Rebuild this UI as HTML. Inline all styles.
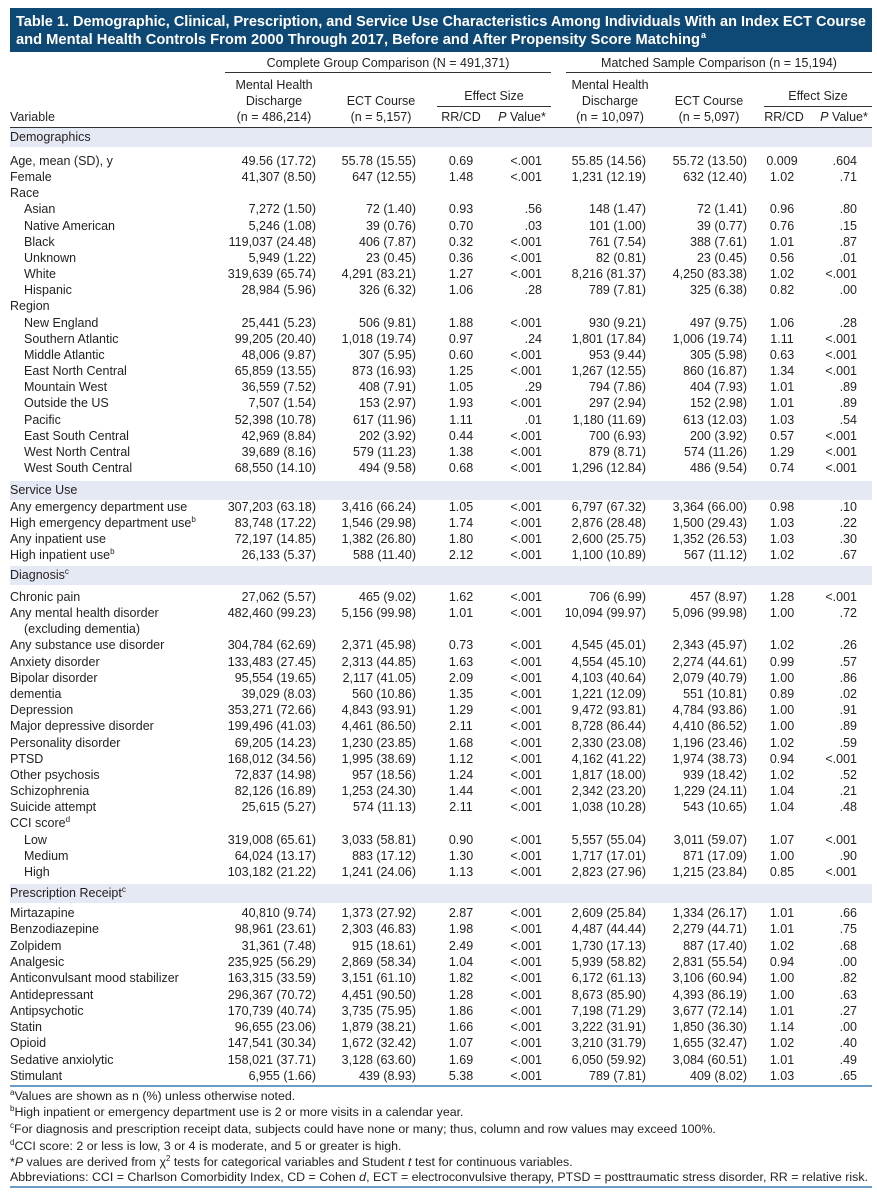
<!DOCTYPE html>
<html><head><meta charset="utf-8">
<style>
body{margin:0;width:877px;height:1200px;background:#fff;position:relative;font-family:"Liberation Sans",sans-serif;color:#231f20;overflow:hidden}
.t{position:absolute;left:10px;top:8px;width:862px;height:44px;background:#0e4874}
.r{position:absolute;left:0;width:877px;height:16px;line-height:16px;font-size:12.5px;white-space:nowrap}
.r span{position:absolute;top:0}
.v{left:10px}.i{left:24px}
.a{right:561px}.b{right:461px}.c{left:440px;width:42px;text-align:center}.d{right:335px}
.e{right:231px}.f{right:130px}.g{left:761px;width:42px;text-align:center}.h{right:20px}
.band{position:absolute;left:10px;width:862px;height:19px;background:#e5e9f4;font-size:12.5px;line-height:19px;padding-left:0}
.band span{position:absolute;left:0}
sup{font-size:8px;line-height:0;vertical-align:5px}
.hd{position:absolute;font-size:12.5px;line-height:16px;text-align:center;white-space:nowrap}
.ln{position:absolute;height:1px;background:#333}
.rule{position:absolute;left:10px;width:862px;height:2px;background:#6b9bc7}
.fn{position:absolute;left:10px;font-size:12.4px;line-height:16px;white-space:nowrap}
</style></head><body>
<div class="t"></div>
<svg style="position:absolute;left:0;top:0" width="877" height="60">
<text x="16" y="26" fill="#fff" font-family="Liberation Sans" font-weight="bold" font-size="14.5" textLength="850" lengthAdjust="spacingAndGlyphs">Table 1. Demographic, Clinical, Prescription, and Service Use Characteristics Among Individuals With an Index ECT Course</text>
<text x="16" y="44" fill="#fff" font-family="Liberation Sans" font-weight="bold" font-size="14.5" textLength="684" lengthAdjust="spacingAndGlyphs">and Mental Health Controls From 2000 Through 2017, Before and After Propensity Score Matching</text>
<text x="701" y="38" fill="#fff" font-family="Liberation Sans" font-weight="bold" font-size="9">a</text>
</svg>

<div class="hd" style="left:225px;width:326px;top:55px">Complete Group Comparison (N = 491,371)</div>
<div class="ln" style="left:225px;width:326px;top:72px"></div>
<div class="hd" style="left:566px;width:306px;top:55px">Matched Sample Comparison (n = 15,194)</div>
<div class="ln" style="left:566px;width:306px;top:72px"></div>
<div class="hd" style="left:214px;width:120px;top:77px">Mental Health<br>Discharge<br>(n = 486,214)</div>
<div class="hd" style="left:331px;width:100px;top:93px;line-height:16px">ECT Course<br>(n = 5,157)</div>
<div class="hd" style="left:437px;width:114px;top:88px">Effect Size</div>
<div class="ln" style="left:437px;width:114px;top:106px"></div>
<div class="hd" style="left:440px;width:42px;top:109px">RR/CD</div>
<div class="hd" style="left:492px;width:60px;top:109px"><i>P</i> Value*</div>
<div class="hd" style="left:550px;width:120px;top:77px">Mental Health<br>Discharge<br>(n = 10,097)</div>
<div class="hd" style="left:659px;width:100px;top:93px">ECT Course<br>(n = 5,097)</div>
<div class="hd" style="left:764px;width:108px;top:88px">Effect Size</div>
<div class="ln" style="left:764px;width:108px;top:106px"></div>
<div class="hd" style="left:761px;width:46px;top:109px">RR/CD</div>
<div class="hd" style="left:814px;width:60px;top:109px"><i>P</i> Value*</div>
<div class="hd" style="left:10px;top:109px;text-align:left">Variable</div>
<div class="ln" style="left:10px;width:862px;top:127px"></div>

<div class="band" style="top:128px"><span>Demographics</span></div>
<div class="r" style="top:153px"><span class="v">Age, mean (SD), y</span><span class="a">49.56 (17.72)</span><span class="b">55.78 (15.55)</span><span class="c">0.69</span><span class="d">&lt;.001</span><span class="e">55.85 (14.56)</span><span class="f">55.72 (13.50)</span><span class="g">0.009</span><span class="h">.604</span></div>
<div class="r" style="top:169px"><span class="v">Female</span><span class="a">41,307 (8.50)</span><span class="b">647 (12.55)</span><span class="c">1.48</span><span class="d">&lt;.001</span><span class="e">1,231 (12.19)</span><span class="f">632 (12.40)</span><span class="g">1.02</span><span class="h">.71</span></div>
<div class="r" style="top:185px"><span class="v">Race</span></div>
<div class="r" style="top:201px"><span class="i">Asian</span><span class="a">7,272 (1.50)</span><span class="b">72 (1.40)</span><span class="c">0.93</span><span class="d">.56</span><span class="e">148 (1.47)</span><span class="f">72 (1.41)</span><span class="g">0.96</span><span class="h">.80</span></div>
<div class="r" style="top:218px"><span class="i">Native American</span><span class="a">5,246 (1.08)</span><span class="b">39 (0.76)</span><span class="c">0.70</span><span class="d">.03</span><span class="e">101 (1.00)</span><span class="f">39 (0.77)</span><span class="g">0.76</span><span class="h">.15</span></div>
<div class="r" style="top:234px"><span class="i">Black</span><span class="a">119,037 (24.48)</span><span class="b">406 (7.87)</span><span class="c">0.32</span><span class="d">&lt;.001</span><span class="e">761 (7.54)</span><span class="f">388 (7.61)</span><span class="g">1.01</span><span class="h">.87</span></div>
<div class="r" style="top:250px"><span class="i">Unknown</span><span class="a">5,949 (1.22)</span><span class="b">23 (0.45)</span><span class="c">0.36</span><span class="d">&lt;.001</span><span class="e">82 (0.81)</span><span class="f">23 (0.45)</span><span class="g">0.56</span><span class="h">.01</span></div>
<div class="r" style="top:266px"><span class="i">White</span><span class="a">319,639 (65.74)</span><span class="b">4,291 (83.21)</span><span class="c">1.27</span><span class="d">&lt;.001</span><span class="e">8,216 (81.37)</span><span class="f">4,250 (83.38)</span><span class="g">1.02</span><span class="h">&lt;.001</span></div>
<div class="r" style="top:282px"><span class="i">Hispanic</span><span class="a">28,984 (5.96)</span><span class="b">326 (6.32)</span><span class="c">1.06</span><span class="d">.28</span><span class="e">789 (7.81)</span><span class="f">325 (6.38)</span><span class="g">0.82</span><span class="h">.00</span></div>
<div class="r" style="top:298px"><span class="v">Region</span></div>
<div class="r" style="top:315px"><span class="i">New England</span><span class="a">25,441 (5.23)</span><span class="b">506 (9.81)</span><span class="c">1.88</span><span class="d">&lt;.001</span><span class="e">930 (9.21)</span><span class="f">497 (9.75)</span><span class="g">1.06</span><span class="h">.28</span></div>
<div class="r" style="top:331px"><span class="i">Southern Atlantic</span><span class="a">99,205 (20.40)</span><span class="b">1,018 (19.74)</span><span class="c">0.97</span><span class="d">.24</span><span class="e">1,801 (17.84)</span><span class="f">1,006 (19.74)</span><span class="g">1.11</span><span class="h">&lt;.001</span></div>
<div class="r" style="top:347px"><span class="i">Middle Atlantic</span><span class="a">48,006 (9.87)</span><span class="b">307 (5.95)</span><span class="c">0.60</span><span class="d">&lt;.001</span><span class="e">953 (9.44)</span><span class="f">305 (5.98)</span><span class="g">0.63</span><span class="h">&lt;.001</span></div>
<div class="r" style="top:363px"><span class="i">East North Central</span><span class="a">65,859 (13.55)</span><span class="b">873 (16.93)</span><span class="c">1.25</span><span class="d">&lt;.001</span><span class="e">1,267 (12.55)</span><span class="f">860 (16.87)</span><span class="g">1.34</span><span class="h">&lt;.001</span></div>
<div class="r" style="top:379px"><span class="i">Mountain West</span><span class="a">36,559 (7.52)</span><span class="b">408 (7.91)</span><span class="c">1.05</span><span class="d">.29</span><span class="e">794 (7.86)</span><span class="f">404 (7.93)</span><span class="g">1.01</span><span class="h">.89</span></div>
<div class="r" style="top:395px"><span class="i">Outside the US</span><span class="a">7,507 (1.54)</span><span class="b">153 (2.97)</span><span class="c">1.93</span><span class="d">&lt;.001</span><span class="e">297 (2.94)</span><span class="f">152 (2.98)</span><span class="g">1.01</span><span class="h">.89</span></div>
<div class="r" style="top:412px"><span class="i">Pacific</span><span class="a">52,398 (10.78)</span><span class="b">617 (11.96)</span><span class="c">1.11</span><span class="d">.01</span><span class="e">1,180 (11.69)</span><span class="f">613 (12.03)</span><span class="g">1.03</span><span class="h">.54</span></div>
<div class="r" style="top:428px"><span class="i">East South Central</span><span class="a">42,969 (8.84)</span><span class="b">202 (3.92)</span><span class="c">0.44</span><span class="d">&lt;.001</span><span class="e">700 (6.93)</span><span class="f">200 (3.92)</span><span class="g">0.57</span><span class="h">&lt;.001</span></div>
<div class="r" style="top:444px"><span class="i">West North Central</span><span class="a">39,689 (8.16)</span><span class="b">579 (11.23)</span><span class="c">1.38</span><span class="d">&lt;.001</span><span class="e">879 (8.71)</span><span class="f">574 (11.26)</span><span class="g">1.29</span><span class="h">&lt;.001</span></div>
<div class="r" style="top:460px"><span class="i">West South Central</span><span class="a">68,550 (14.10)</span><span class="b">494 (9.58)</span><span class="c">0.68</span><span class="d">&lt;.001</span><span class="e">1,296 (12.84)</span><span class="f">486 (9.54)</span><span class="g">0.74</span><span class="h">&lt;.001</span></div>

<div class="band" style="top:481px"><span>Service Use</span></div>
<div class="r" style="top:499px"><span class="v">Any emergency department use</span><span class="a">307,203 (63.18)</span><span class="b">3,416 (66.24)</span><span class="c">1.05</span><span class="d">&lt;.001</span><span class="e">6,797 (67.32)</span><span class="f">3,364 (66.00)</span><span class="g">0.98</span><span class="h">.10</span></div>
<div class="r" style="top:515px"><span class="v">High emergency department use<sup>b</sup></span><span class="a">83,748 (17.22)</span><span class="b">1,546 (29.98)</span><span class="c">1.74</span><span class="d">&lt;.001</span><span class="e">2,876 (28.48)</span><span class="f">1,500 (29.43)</span><span class="g">1.03</span><span class="h">.22</span></div>
<div class="r" style="top:531px"><span class="v">Any inpatient use</span><span class="a">72,197 (14.85)</span><span class="b">1,382 (26.80)</span><span class="c">1.80</span><span class="d">&lt;.001</span><span class="e">2,600 (25.75)</span><span class="f">1,352 (26.53)</span><span class="g">1.03</span><span class="h">.30</span></div>
<div class="r" style="top:547px"><span class="v">High inpatient use<sup>b</sup></span><span class="a">26,133 (5.37)</span><span class="b">588 (11.40)</span><span class="c">2.12</span><span class="d">&lt;.001</span><span class="e">1,100 (10.89)</span><span class="f">567 (11.12)</span><span class="g">1.02</span><span class="h">.67</span></div>

<div class="band" style="top:566px"><span>Diagnosis<sup>c</sup></span></div>
<div class="r" style="top:589px"><span class="v">Chronic pain</span><span class="a">27,062 (5.57)</span><span class="b">465 (9.02)</span><span class="c">1.62</span><span class="d">&lt;.001</span><span class="e">706 (6.99)</span><span class="f">457 (8.97)</span><span class="g">1.28</span><span class="h">&lt;.001</span></div>
<div class="r" style="top:605px"><span class="v">Any mental health disorder</span><span class="a">482,460 (99.23)</span><span class="b">5,156 (99.98)</span><span class="c">1.01</span><span class="d">&lt;.001</span><span class="e">10,094 (99.97)</span><span class="f">5,096 (99.98)</span><span class="g">1.00</span><span class="h">.72</span></div>
<div class="r" style="top:621px"><span class="i">(excluding dementia)</span></div>
<div class="r" style="top:637px"><span class="v">Any substance use disorder</span><span class="a">304,784 (62.69)</span><span class="b">2,371 (45.98)</span><span class="c">0.73</span><span class="d">&lt;.001</span><span class="e">4,545 (45.01)</span><span class="f">2,343 (45.97)</span><span class="g">1.02</span><span class="h">.26</span></div>
<div class="r" style="top:654px"><span class="v">Anxiety disorder</span><span class="a">133,483 (27.45)</span><span class="b">2,313 (44.85)</span><span class="c">1.63</span><span class="d">&lt;.001</span><span class="e">4,554 (45.10)</span><span class="f">2,274 (44.61)</span><span class="g">0.99</span><span class="h">.57</span></div>
<div class="r" style="top:670px"><span class="v">Bipolar disorder</span><span class="a">95,554 (19.65)</span><span class="b">2,117 (41.05)</span><span class="c">2.09</span><span class="d">&lt;.001</span><span class="e">4,103 (40.64)</span><span class="f">2,079 (40.79)</span><span class="g">1.00</span><span class="h">.86</span></div>
<div class="r" style="top:686px"><span class="v">dementia</span><span class="a">39,029 (8.03)</span><span class="b">560 (10.86)</span><span class="c">1.35</span><span class="d">&lt;.001</span><span class="e">1,221 (12.09)</span><span class="f">551 (10.81)</span><span class="g">0.89</span><span class="h">.02</span></div>
<div class="r" style="top:702px"><span class="v">Depression</span><span class="a">353,271 (72.66)</span><span class="b">4,843 (93.91)</span><span class="c">1.29</span><span class="d">&lt;.001</span><span class="e">9,472 (93.81)</span><span class="f">4,784 (93.86)</span><span class="g">1.00</span><span class="h">.91</span></div>
<div class="r" style="top:718px"><span class="v">Major depressive disorder</span><span class="a">199,496 (41.03)</span><span class="b">4,461 (86.50)</span><span class="c">2.11</span><span class="d">&lt;.001</span><span class="e">8,728 (86.44)</span><span class="f">4,410 (86.52)</span><span class="g">1.00</span><span class="h">.89</span></div>
<div class="r" style="top:735px"><span class="v">Personality disorder</span><span class="a">69,205 (14.23)</span><span class="b">1,230 (23.85)</span><span class="c">1.68</span><span class="d">&lt;.001</span><span class="e">2,330 (23.08)</span><span class="f">1,196 (23.46)</span><span class="g">1.02</span><span class="h">.59</span></div>
<div class="r" style="top:751px"><span class="v">PTSD</span><span class="a">168,012 (34.56)</span><span class="b">1,995 (38.69)</span><span class="c">1.12</span><span class="d">&lt;.001</span><span class="e">4,162 (41.22)</span><span class="f">1,974 (38.73)</span><span class="g">0.94</span><span class="h">&lt;.001</span></div>
<div class="r" style="top:767px"><span class="v">Other psychosis</span><span class="a">72,837 (14.98)</span><span class="b">957 (18.56)</span><span class="c">1.24</span><span class="d">&lt;.001</span><span class="e">1,817 (18.00)</span><span class="f">939 (18.42)</span><span class="g">1.02</span><span class="h">.52</span></div>
<div class="r" style="top:783px"><span class="v">Schizophrenia</span><span class="a">82,126 (16.89)</span><span class="b">1,253 (24.30)</span><span class="c">1.44</span><span class="d">&lt;.001</span><span class="e">2,342 (23.20)</span><span class="f">1,229 (24.11)</span><span class="g">1.04</span><span class="h">.21</span></div>
<div class="r" style="top:799px"><span class="v">Suicide attempt</span><span class="a">25,615 (5.27)</span><span class="b">574 (11.13)</span><span class="c">2.11</span><span class="d">&lt;.001</span><span class="e">1,038 (10.28)</span><span class="f">543 (10.65)</span><span class="g">1.04</span><span class="h">.48</span></div>
<div class="r" style="top:815px"><span class="v">CCI score<sup>d</sup></span></div>
<div class="r" style="top:832px"><span class="i">Low</span><span class="a">319,008 (65.61)</span><span class="b">3,033 (58.81)</span><span class="c">0.90</span><span class="d">&lt;.001</span><span class="e">5,557 (55.04)</span><span class="f">3,011 (59.07)</span><span class="g">1.07</span><span class="h">&lt;.001</span></div>
<div class="r" style="top:848px"><span class="i">Medium</span><span class="a">64,024 (13.17)</span><span class="b">883 (17.12)</span><span class="c">1.30</span><span class="d">&lt;.001</span><span class="e">1,717 (17.01)</span><span class="f">871 (17.09)</span><span class="g">1.00</span><span class="h">.90</span></div>
<div class="r" style="top:864px"><span class="i">High</span><span class="a">103,182 (21.22)</span><span class="b">1,241 (24.06)</span><span class="c">1.13</span><span class="d">&lt;.001</span><span class="e">2,823 (27.96)</span><span class="f">1,215 (23.84)</span><span class="g">0.85</span><span class="h">&lt;.001</span></div>

<div class="band" style="top:884px"><span>Prescription Receipt<sup>c</sup></span></div>
<div class="r" style="top:905px"><span class="v">Mirtazapine</span><span class="a">40,810 (9.74)</span><span class="b">1,373 (27.92)</span><span class="c">2.87</span><span class="d">&lt;.001</span><span class="e">2,609 (25.84)</span><span class="f">1,334 (26.17)</span><span class="g">1.01</span><span class="h">.66</span></div>
<div class="r" style="top:921px"><span class="v">Benzodiazepine</span><span class="a">98,961 (23.61)</span><span class="b">2,303 (46.83)</span><span class="c">1.98</span><span class="d">&lt;.001</span><span class="e">4,487 (44.44)</span><span class="f">2,279 (44.71)</span><span class="g">1.01</span><span class="h">.75</span></div>
<div class="r" style="top:938px"><span class="v">Zolpidem</span><span class="a">31,361 (7.48)</span><span class="b">915 (18.61)</span><span class="c">2.49</span><span class="d">&lt;.001</span><span class="e">1,730 (17.13)</span><span class="f">887 (17.40)</span><span class="g">1.02</span><span class="h">.68</span></div>
<div class="r" style="top:954px"><span class="v">Analgesic</span><span class="a">235,925 (56.29)</span><span class="b">2,869 (58.34)</span><span class="c">1.04</span><span class="d">&lt;.001</span><span class="e">5,939 (58.82)</span><span class="f">2,831 (55.54)</span><span class="g">0.94</span><span class="h">.00</span></div>
<div class="r" style="top:970px"><span class="v">Anticonvulsant mood stabilizer</span><span class="a">163,315 (33.59)</span><span class="b">3,151 (61.10)</span><span class="c">1.82</span><span class="d">&lt;.001</span><span class="e">6,172 (61.13)</span><span class="f">3,106 (60.94)</span><span class="g">1.00</span><span class="h">.82</span></div>
<div class="r" style="top:987px"><span class="v">Antidepressant</span><span class="a">296,367 (70.72)</span><span class="b">4,451 (90.50)</span><span class="c">1.28</span><span class="d">&lt;.001</span><span class="e">8,673 (85.90)</span><span class="f">4,393 (86.19)</span><span class="g">1.00</span><span class="h">.63</span></div>
<div class="r" style="top:1003px"><span class="v">Antipsychotic</span><span class="a">170,739 (40.74)</span><span class="b">3,735 (75.95)</span><span class="c">1.86</span><span class="d">&lt;.001</span><span class="e">7,198 (71.29)</span><span class="f">3,677 (72.14)</span><span class="g">1.01</span><span class="h">.27</span></div>
<div class="r" style="top:1019px"><span class="v">Statin</span><span class="a">96,655 (23.06)</span><span class="b">1,879 (38.21)</span><span class="c">1.66</span><span class="d">&lt;.001</span><span class="e">3,222 (31.91)</span><span class="f">1,850 (36.30)</span><span class="g">1.14</span><span class="h">.00</span></div>
<div class="r" style="top:1035px"><span class="v">Opioid</span><span class="a">147,541 (30.34)</span><span class="b">1,672 (32.42)</span><span class="c">1.07</span><span class="d">&lt;.001</span><span class="e">3,210 (31.79)</span><span class="f">1,655 (32.47)</span><span class="g">1.02</span><span class="h">.40</span></div>
<div class="r" style="top:1052px"><span class="v">Sedative anxiolytic</span><span class="a">158,021 (37.71)</span><span class="b">3,128 (63.60)</span><span class="c">1.69</span><span class="d">&lt;.001</span><span class="e">6,050 (59.92)</span><span class="f">3,084 (60.51)</span><span class="g">1.01</span><span class="h">.49</span></div>
<div class="r" style="top:1068px"><span class="v">Stimulant</span><span class="a">6,955 (1.66)</span><span class="b">439 (8.93)</span><span class="c">5.38</span><span class="d">&lt;.001</span><span class="e">789 (7.81)</span><span class="f">409 (8.02)</span><span class="g">1.03</span><span class="h">.65</span></div>

<div class="rule" style="top:1085px"></div>
<div class="fn" style="top:1088px"><sup>a</sup>Values are shown as n (%) unless otherwise noted.</div>
<div class="fn" style="top:1104px"><sup>b</sup>High inpatient or emergency department use is 2 or more visits in a calendar year.</div>
<div class="fn" style="top:1121px"><sup>c</sup>For diagnosis and prescription receipt data, subjects could have none or many; thus, column and row values may exceed 100%.</div>
<div class="fn" style="top:1138px"><sup>d</sup>CCI score: 2 or less is low, 3 or 4 is moderate, and 5 or greater is high.</div>
<div class="fn" style="top:1154px">*<i>P</i> values are derived from χ<sup>2</sup> tests for categorical variables and Student <i>t</i> test for continuous variables.</div>
<div class="fn" style="top:1169px">Abbreviations: CCI = Charlson Comorbidity Index, CD = Cohen <i>d</i>, ECT = electroconvulsive therapy, PTSD = posttraumatic stress disorder, RR = relative risk.</div>
<div class="rule" style="top:1186px"></div>
</body></html>
